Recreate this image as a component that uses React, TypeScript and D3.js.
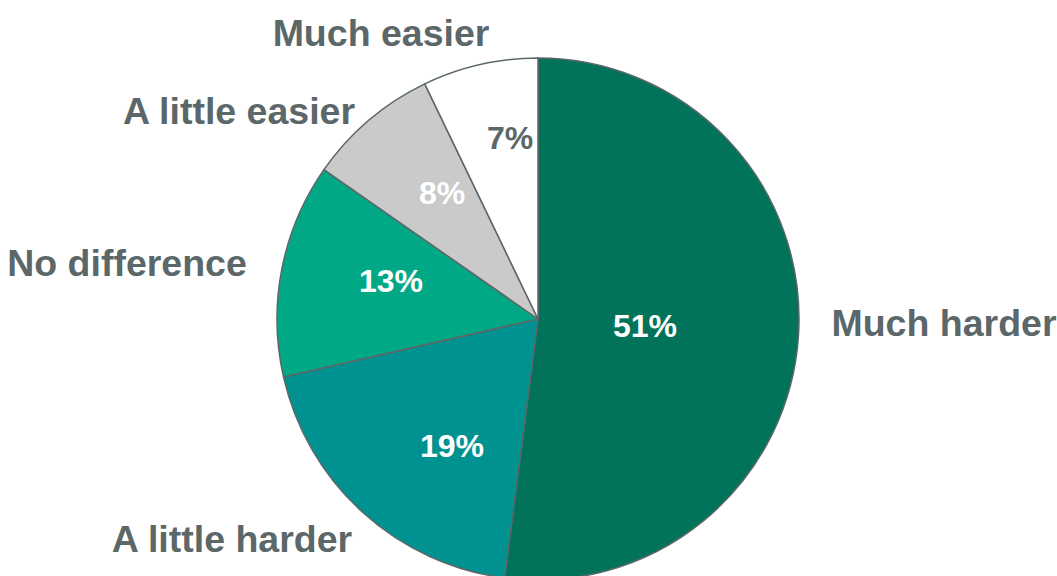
import React from "react";
import * as d3 from "d3";

const categories = ["Much harder", "A little harder", "No difference", "A little easier", "Much easier"];
const values = [51, 19, 13, 8, 7];
const valueLabels = ["51%", "19%", "13%", "8%", "7%"];
const colors = ["#00735A", "#009290", "#00A886", "#CACACA", "#FFFFFF"];
const pctColors = ["#FFFFFF", "#FFFFFF", "#FFFFFF", "#FFFFFF", "#5B6768"];
// label offsets from pie centre (layout only)
const pctOffsets: [number, number][] = [[107, 7], [-86, 127], [-147, -38], [-96, -126], [-28, -181]];
const catOffsets: [number, number][] = [[406, 4], [-306, 220], [-411, -56], [-299, -208], [-157, -286]];

const W = 1057, H = 576;
const cx = 538, cy = 319, R = 261;
const textColor = "#5B6768";

export default function App() {
  const pie = d3.pie<number>().sort(null).startAngle(0).endAngle(2 * Math.PI);
  const arcs = pie(values);
  const arc = d3.arc<d3.PieArcDatum<number>>().innerRadius(0).outerRadius(R);
  return (
    <svg width={W} height={H} style={{ position: "absolute", left: 0, top: 0, background: "#fff" }}
      fontFamily="'Liberation Sans', Arial, sans-serif" fontWeight="bold">
      <g transform={`translate(${cx},${cy})`}>
        {arcs.map((a, i) => (
          <path key={i} d={arc(a) || ""} fill={colors[i]} stroke={textColor} strokeWidth={1.5} strokeLinejoin="round" />
        ))}
        {arcs.map((a, i) => (
          <text key={"p" + i} x={pctOffsets[i][0]} y={pctOffsets[i][1]} textAnchor="middle" dominantBaseline="central"
            fontSize={32} fill={pctColors[i]}>{valueLabels[i]}</text>
        ))}
        {categories.map((c, i) => (
          <text key={"c" + i} x={catOffsets[i][0]} y={catOffsets[i][1]} textAnchor="middle" dominantBaseline="central"
            fontSize={37.5} fill={textColor}>{c}</text>
        ))}
      </g>
    </svg>
  );
}
